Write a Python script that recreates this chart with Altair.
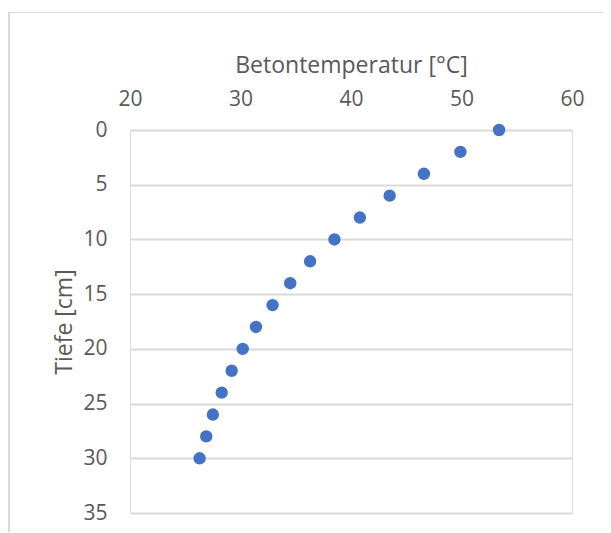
import altair as alt
import pandas as pd

depth_cm = [0, 2, 4, 6, 8, 10, 12, 14, 16, 18, 20, 22, 24, 26, 28, 30]
temp_c = [53.4, 49.9, 46.6, 43.5, 40.8, 38.5, 36.3, 34.5, 32.9, 31.4, 30.2, 29.2, 28.3, 27.5, 26.9, 26.3]
x_ticks = [20, 30, 40, 50, 60]
y_ticks = [0, 5, 10, 15, 20, 25, 30, 35]

df = pd.DataFrame({"depth": depth_cm, "temp": temp_c})

FONT = "Open Sans"
GREY = "#595959"
W, H = 442, 383

points = alt.Chart(df).mark_point(filled=True, size=154, color="#4472C4", opacity=1).encode(
    x=alt.X("temp:Q",
            scale=alt.Scale(domain=[20, 60], nice=False, zero=False),
            axis=alt.Axis(orient="top", values=x_ticks, title="Betontemperatur [°C]",
                          grid=False, domain=False, ticks=False, labelPadding=21,
                          labelFlush=False, labelOverlap=False,
                          labelFontSize=21, labelColor=GREY, labelFont=FONT,
                          titleFontSize=23, titleColor=GREY, titleFont=FONT,
                          titleFontWeight="normal", titleY=-57.5, titleBaseline="alphabetic")),
    y=alt.Y("depth:Q",
            scale=alt.Scale(domain=[0, 35], reverse=True, nice=False, zero=False),
            axis=alt.Axis(values=y_ticks, title="Tiefe [cm]",
                          grid=True, gridColor="#d9d9d9", gridWidth=1.8,
                          domain=False, ticks=False, labelPadding=23,
                          labelFlush=False, labelOverlap=False,
                          labelFontSize=21, labelColor=GREY, labelFont=FONT,
                          titleFontSize=23, titleColor=GREY, titleFont=FONT,
                          titleFontWeight="normal", titleX=-59, titleY=H / 2,
                          titleAngle=270, titleBaseline="alphabetic")),
)

frame_left = alt.Chart(df).mark_rule(stroke="#d9d9d9", strokeWidth=1.2).encode(
    x=alt.value(-121), y=alt.value(-117.5), y2=alt.value(1200)
)
frame_top = alt.Chart(df).mark_rule(stroke="#d9d9d9", strokeWidth=1.2).encode(
    x=alt.value(-121), x2=alt.value(1200), y=alt.value(-117.5)
)

chart = alt.layer(frame_left, frame_top, points).properties(
    width=W, height=H,
    autosize=alt.AutoSizeParams(type="none"),
    padding={"left": 122, "top": 122, "right": 31, "bottom": 19},
).configure_view(stroke=None).configure(background="white")

chart.save("out.html", embed_options={"renderer": "svg", "actions": False})
